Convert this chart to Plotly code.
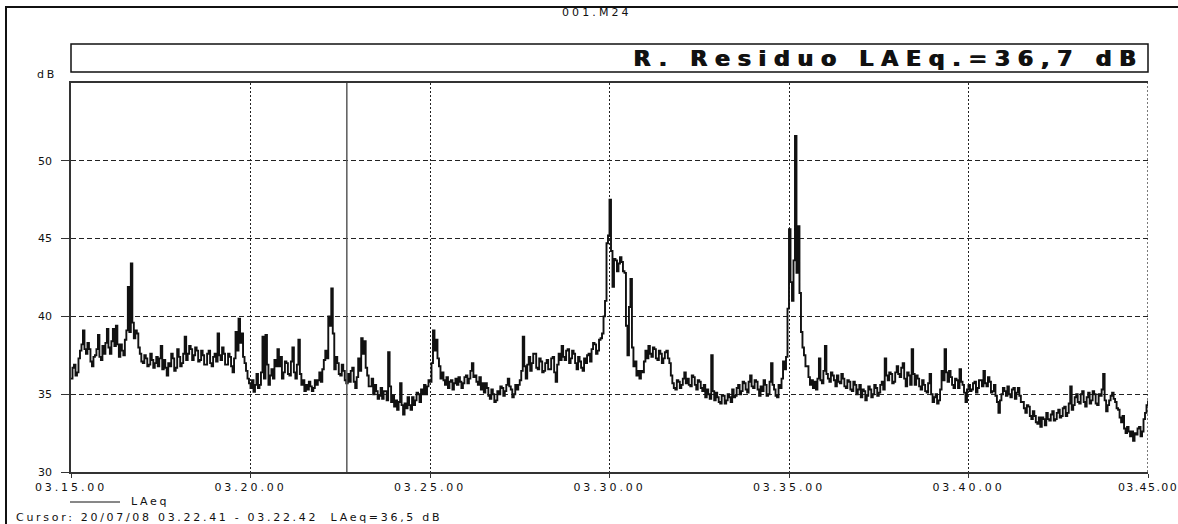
import plotly.graph_objects as go

# ---------------- data ----------------
step_seconds = 2.5
tick_seconds = [0, 300, 600, 900, 1200, 1500, 1800]
tick_labels = ["03.15.00", "03.20.00", "03.25.00", "03.30.00", "03.35.00", "03.40.00", "03.45.00"]
y_ticks = [30, 35, 40, 45, 50]
cursor_second = 461  # 03.22.41

# LAeq read on every 5 s mark
laeq_0315 = [36.0, 36.9, 36.4, 37.8, 39.1, 37.6, 37.9, 36.8, 37.5, 38.8, 37.2, 37.6,
             39.2, 37.6, 39.2, 39.4, 37.4, 37.8, 38.5, 41.9, 43.4, 38.6, 38.9, 37.6,
             37.0, 37.3, 36.9, 37.2, 37.0, 36.8, 38.1, 37.2, 36.2, 36.8, 37.3, 36.7,
             37.4, 37.0, 38.7, 37.6, 37.9, 37.5, 37.8, 37.2, 37.5, 36.9, 37.8, 36.8,
             37.6, 38.9, 37.2, 37.6, 36.9, 37.4, 36.4, 39.0, 39.85, 38.9, 37.0, 36.0]
laeq_0320 = [35.4, 35.15, 36.3, 35.6, 38.7, 38.8, 35.6, 36.6, 37.2, 37.9, 37.4, 36.4,
             37.0, 36.2, 38.0, 36.0, 38.5, 35.6, 35.2, 35.3, 35.5, 35.4, 35.6, 36.4,
             36.6, 37.8, 40.0, 41.8, 36.6, 37.0, 36.2, 36.5, 35.7, 35.8, 36.7, 35.4,
             37.3, 38.6, 38.4, 36.2, 35.5, 35.0, 35.2, 34.9, 34.7, 35.2, 37.7, 34.5,
             34.2, 34.0, 35.7, 33.7, 34.1, 34.3, 34.8, 34.6, 35.0, 35.3, 35.6, 35.5]
laeq_0325 = [35.8, 39.1, 38.5, 36.8, 36.4, 35.6, 35.4, 35.9, 35.7, 35.6, 35.8, 35.7,
             36.2, 36.0, 37.0, 36.2, 35.6, 35.3, 35.1, 35.4, 34.7, 35.0, 34.6, 35.0,
             35.4, 35.2, 36.0, 35.3, 35.0, 35.3, 35.9, 38.7, 36.0, 37.4, 37.0, 37.6,
             36.6, 37.1, 36.5, 37.2, 36.6, 37.4, 35.8, 37.6, 38.1, 37.2, 37.9, 37.3,
             37.6, 36.6, 37.1, 36.5, 37.0, 37.6, 37.9, 38.2, 37.8, 38.6, 40.0, 44.7]
laeq_0330 = [47.5, 41.9, 43.6, 43.4, 43.5, 42.8, 37.5, 42.4, 36.8, 36.2, 36.0, 36.4,
             37.8, 38.1, 37.4, 37.9, 37.2, 37.6, 37.3, 37.8, 37.0, 35.7, 35.3, 35.8,
             35.6, 36.4, 36.0, 35.5, 36.1, 35.3, 35.8, 35.2, 34.8, 35.0, 37.5, 34.6,
             34.8, 34.4, 34.9, 34.6, 34.8, 35.3, 34.9, 35.6, 35.2, 35.7, 35.1, 36.2,
             35.4, 35.8, 34.9, 35.2, 35.6, 35.0, 37.0, 35.3, 34.8, 35.4, 37.1, 37.4]
laeq_0335 = [45.6, 41.0, 51.6, 45.8, 39.0, 37.5, 36.8, 35.6, 35.4, 35.3, 37.3, 35.7,
             38.1, 36.0, 36.4, 35.9, 36.2, 35.7, 36.0, 35.4, 35.8, 35.2, 35.6, 35.3,
             34.8, 35.2, 34.9, 35.3, 35.0, 35.4, 35.1, 35.8, 37.3, 35.9, 36.3, 35.8,
             36.8, 36.1, 37.0, 35.5, 36.2, 37.9, 35.6, 36.0, 35.3, 35.6, 35.1, 36.3,
             34.5, 35.0, 34.6, 36.5, 37.9, 35.8, 36.1, 35.4, 35.9, 36.6, 35.6, 34.5]
laeq_0340 = [35.6, 35.3, 35.8, 35.4, 35.9, 36.5, 35.5, 35.8, 35.2, 34.9, 33.8, 35.0,
             35.2, 35.5, 34.8, 35.4, 35.1, 34.9, 34.5, 33.8, 34.2, 33.4, 33.6, 33.1,
             32.9, 33.4, 33.8, 33.3, 33.9, 33.4, 34.0, 33.6, 34.2, 33.8, 35.5, 34.3,
             35.0, 34.4, 35.2, 34.2, 35.1, 34.6, 35.0, 34.3, 34.9, 36.3, 33.9, 34.6,
             35.1, 34.5, 34.0, 33.2, 32.8, 32.9, 32.3, 32.0, 32.4, 32.9, 32.6, 33.8,
             34.6]

# LAeq read half-way between the 5 s marks (the fast fluctuation of the trace)
laeq_0315_half = [36.7, 36.2, 37.3, 38.2, 37.9, 38.3, 37.1, 37.4, 37.9, 37.4, 38.1, 38.3,
                  38.0, 38.4, 38.1, 38.2, 38.2, 37.5, 39.1, 39.0, 39.6, 39.1, 38.0, 37.1,
                  37.5, 36.8, 37.6, 36.7, 37.4, 37.3, 36.6, 36.7, 37.0, 37.6, 36.5, 37.9,
                  36.8, 37.6, 37.2, 38.1, 37.2, 38.0, 37.1, 37.8, 36.9, 37.6, 37.0, 37.4,
                  37.1, 37.5, 38.0, 36.9, 37.6, 36.8, 37.3, 37.8, 38.3, 37.4, 36.5, 35.7]
laeq_0320_half = [35.9, 35.6, 35.4, 36.4, 36.0, 36.9, 36.2, 36.0, 36.8, 36.8, 36.0, 37.1,
                  36.3, 37.1, 36.4, 36.9, 36.3, 35.9, 35.6, 35.8, 35.2, 35.9, 35.9, 35.8,
                  37.2, 37.3, 39.4, 38.9, 37.4, 36.3, 36.9, 35.9, 36.3, 36.5, 35.8, 36.1,
                  36.5, 37.6, 36.7, 35.5, 36.0, 35.6, 34.7, 35.4, 35.2, 34.6, 35.5, 34.9,
                  34.6, 34.5, 34.3, 34.4, 34.8, 34.0, 34.3, 35.1, 34.5, 35.0, 35.0, 35.9]
laeq_0325_half = [37.0, 37.8, 37.3, 36.0, 35.9, 36.1, 35.8, 35.3, 36.0, 36.1, 35.4, 36.1,
                  35.7, 36.5, 36.1, 35.8, 36.1, 35.7, 35.7, 34.9, 35.3, 34.5, 35.2, 35.5,
                  34.9, 35.6, 35.5, 34.8, 35.6, 35.6, 36.5, 36.8, 36.9, 36.5, 37.6, 36.7,
                  37.3, 36.4, 37.0, 36.6, 37.3, 36.4, 36.9, 37.2, 37.4, 37.8, 37.0, 37.8,
                  37.0, 37.4, 36.7, 37.3, 37.5, 37.1, 38.3, 37.6, 38.5, 38.9, 41.0, 45.2]
laeq_0330_half = [44.2, 43.7, 42.9, 43.8, 42.9, 39.4, 40.6, 38.0, 37.1, 36.5, 36.5, 37.1,
                  37.3, 37.6, 38.0, 37.3, 37.8, 37.0, 37.7, 37.3, 36.2, 35.4, 35.9, 35.4,
                  36.0, 35.7, 35.6, 36.2, 35.6, 35.9, 35.4, 35.6, 35.3, 34.7, 35.2, 35.1,
                  34.5, 34.9, 34.4, 35.0, 34.5, 34.8, 35.4, 35.0, 35.8, 35.3, 35.8, 35.5,
                  35.9, 35.3, 35.5, 35.9, 34.9, 35.8, 35.6, 34.9, 35.6, 36.0, 36.6, 40.5]
laeq_0335_half = [42.2, 43.6, 42.8, 41.5, 38.0, 36.8, 36.1, 35.9, 35.8, 36.0, 35.9, 36.5,
                  36.3, 35.8, 36.2, 35.5, 35.8, 36.3, 35.5, 35.9, 35.3, 35.8, 35.0, 35.6,
                  35.3, 34.6, 35.5, 34.8, 35.6, 34.9, 35.6, 35.3, 36.2, 36.4, 35.7, 36.4,
                  36.3, 36.7, 36.0, 36.4, 35.6, 36.3, 36.2, 35.5, 35.9, 35.2, 35.7, 35.0,
                  34.8, 34.4, 35.3, 35.9, 36.4, 36.5, 35.6, 36.0, 35.4, 35.8, 35.1, 35.3]
laeq_0340_half = [35.2, 35.7, 35.1, 35.9, 35.5, 35.7, 36.1, 35.1, 35.6, 34.5, 34.6, 35.4,
                  34.9, 35.0, 35.3, 34.7, 35.4, 34.5, 34.1, 34.3, 33.6, 33.9, 33.2, 33.5,
                  33.5, 33.0, 33.4, 33.7, 33.3, 33.8, 33.5, 34.1, 33.6, 34.4, 34.0, 34.8,
                  34.5, 35.0, 34.5, 34.8, 34.4, 35.2, 34.4, 35.0, 35.3, 34.6, 34.3, 34.9,
                  34.7, 34.1, 33.5, 33.6, 32.5, 32.6, 32.6, 32.5, 32.8, 32.3, 33.4, 34.3]

marks = laeq_0315 + laeq_0320 + laeq_0325 + laeq_0330 + laeq_0335 + laeq_0340
halves = (laeq_0315_half + laeq_0320_half + laeq_0325_half + laeq_0330_half
          + laeq_0335_half + laeq_0340_half)
laeq = []
for i, v in enumerate(marks):
    laeq.append(v)
    if i < len(halves):
        laeq.append(halves[i])
seconds = [i * step_seconds for i in range(len(laeq))]

title_text = "001.M24"
header_text = "R. Residuo LAEq.=36,7 dB"
unit_text = "dB"
legend_text = "LAeq"
cursor_text = "Cursor: 20/07/08 03.22.41 - 03.22.42  LAeq=36,5 dB"

# ---------------- layout helpers ----------------
W, H = 1178, 524
L, R, T, B = 71, 30, 83, 52
PW, PH = W - L - R, H - T - B


def px_x(x):
    return (x - L) / PW


def px_y(y):
    return (H - B - y) / PH


def spaced(text, ls):
    return f'<span style="letter-spacing:{ls}px">{text}</span>'


INK = "#111111"
FONT = "DejaVu Sans"

# last tick label sits on the right edge: tighter spacing keeps it inside the picture
x_tick_text = [spaced(t, 2.9) for t in tick_labels[:-1]] + [spaced(tick_labels[-1], 1.4)]

fig = go.Figure()
fig.add_trace(go.Scatter(
    x=seconds, y=laeq, mode="lines", line_shape="hv",
    line=dict(color=INK, width=1.9), showlegend=False, hoverinfo="skip"))

fig.update_layout(
    width=W, height=H, margin=dict(l=L, r=R, t=T, b=B, autoexpand=False),
    paper_bgcolor="white", plot_bgcolor="white", showlegend=False,
    xaxis=dict(
        range=[0, 1800], tickvals=tick_seconds, automargin=False,
        ticktext=x_tick_text,
        ticks="outside", ticklen=4, tickcolor="#333", tickwidth=1,
        ticklabeloverflow="allow",
        tickfont=dict(family=FONT, size=11, color=INK),
        showline=True, linecolor="#333", linewidth=1.5, mirror=True,
        showgrid=True, gridcolor="#222", gridwidth=1.2, griddash="2px,2px",
        zeroline=False, fixedrange=True),
    yaxis=dict(
        range=[30, 55], tickvals=y_ticks, automargin=False,
        ticktext=[str(v) for v in y_ticks],
        ticks="outside", ticklen=8, tickcolor="#333", tickwidth=1,
        ticklabelstandoff=7,
        tickfont=dict(family=FONT, size=11, color=INK),
        showline=True, linecolor="#333", linewidth=1.5, mirror=False,
        showgrid=True, gridcolor="#222", gridwidth=1.2, griddash="5px,3px",
        zeroline=False, fixedrange=True),
)

shapes = [
    # outer frame (right and bottom edges fall outside the picture)
    dict(type="rect", xref="paper", yref="paper", x0=px_x(6), x1=px_x(1240),
         y0=px_y(7), y1=px_y(580), line=dict(color=INK, width=2)),
    # header box
    dict(type="rect", xref="paper", yref="paper", x0=0, x1=1,
         y0=px_y(72), y1=px_y(44), line=dict(color=INK, width=1.5)),
    # right dotted border
    dict(type="line", xref="x", yref="paper", x0=1800, x1=1800, y0=0, y1=1,
         line=dict(color="#222", width=1.2, dash="2px,2px")),
    # cursor line
    dict(type="line", xref="x", yref="paper", x0=cursor_second, x1=cursor_second,
         y0=0, y1=1, line=dict(color="#5a5a5a", width=1.5)),
    # legend sample line
    dict(type="line", xref="paper", yref="paper", x0=px_x(70), x1=px_x(120),
         y0=px_y(502), y1=px_y(502), line=dict(color=INK, width=1)),
]
fig.update_layout(shapes=shapes)

annotations = [
    dict(text=spaced(title_text, 3.1), x=px_x(597), y=px_y(12), xref="paper", yref="paper",
         xanchor="center", yanchor="middle", showarrow=False,
         font=dict(family=FONT, size=11, color=INK)),
    dict(text=spaced(header_text, 7.8), x=px_x(1145), y=px_y(58.5), xref="paper", yref="paper",
         xanchor="right", yanchor="middle", showarrow=False,
         font=dict(family="DejaVu Sans", size=22, color=INK, weight="bold",
                   shadow="1.2px 0px 0px #111111")),
    dict(text=spaced(unit_text, 2.7), x=px_x(35), y=px_y(74), xref="paper", yref="paper",
         xanchor="left", yanchor="middle", showarrow=False,
         font=dict(family=FONT, size=11, color=INK)),
    dict(text=spaced(legend_text, 2.7), x=px_x(129), y=px_y(501), xref="paper", yref="paper",
         xanchor="left", yanchor="middle", showarrow=False,
         font=dict(family=FONT, size=11, color=INK)),
    dict(text=spaced(cursor_text, 2.7), x=px_x(14), y=px_y(517), xref="paper", yref="paper",
         xanchor="left", yanchor="middle", showarrow=False,
         font=dict(family=FONT, size=11, color=INK)),
]
fig.update_layout(annotations=annotations)

fig.write_html("out.html")
